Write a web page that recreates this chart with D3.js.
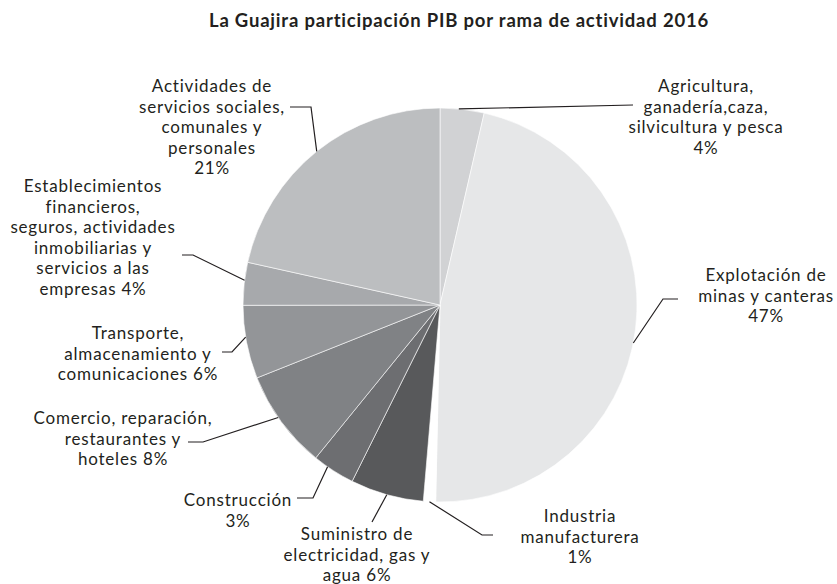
<!DOCTYPE html>
<html><head><meta charset="utf-8">
<script src="https://cdn.jsdelivr.net/npm/d3@7"></script>
<style>
body{margin:0;background:#fff;}
svg{display:block;}
text{font-family:Lato,"Open Sans",sans-serif;fill:#231f20;}
</style></head><body>
<svg id="chart" width="837" height="584"></svg>
<script>
const title = "La Guajira participación PIB por rama de actividad 2016";
const categories = [
  "Agricultura, ganadería,caza, silvicultura y pesca",
  "Explotación de minas y canteras",
  "Industria manufacturera",
  "Suministro de electricidad, gas y agua",
  "Construcción",
  "Comercio, reparación, restaurantes y hoteles",
  "Transporte, almacenamiento y comunicaciones",
  "Establecimientos financieros, seguros, actividades inmobiliarias y servicios a las empresas",
  "Actividades de servicios sociales, comunales y personales"
];
const values = [3.6, 46.7, 1.0, 6.0, 3.5, 8.1, 6.0, 3.5, 21.5];
const percentLabels = ["4%", "47%", "1%", "6%", "3%", "8%", "6%", "4%", "21%"];
const labelLines = [
  ["Agricultura,", "ganadería,caza,", "silvicultura y pesca", "4%"],
  ["Explotación de", "minas y canteras", "47%"],
  ["Industria", "manufacturera", "1%"],
  ["Suministro de", "electricidad, gas y", "agua 6%"],
  ["Construcción", "3%"],
  ["Comercio, reparación,", "restaurantes y", "hoteles 8%"],
  ["Transporte,", "almacenamiento y", "comunicaciones 6%"],
  ["Establecimientos", "financieros,", "seguros, actividades", "inmobiliarias y", "servicios a las", "empresas 4%"],
  ["Actividades de", "servicios sociales,", "comunales y", "personales", "21%"]
];
const colors = ["#d1d2d4", "#e6e7e8", "#ffffff", "#58595b", "#6d6e71", "#808285", "#939598", "#a7a9ac", "#bcbec0"];

// label layout: text centre x, first baseline y, leader start & elbow, angle tweak (deg)
const layout = [
  {x:706, y:92,  pts:[[633,105]], tweak:-1},
  {x:766, y:281, pts:[[678,299],[663,299]], tweak:4},
  {x:580, y:522, pts:[[493,535],[482,535]], tweak:0},
  {x:357, y:540, pts:[[372,522]], tweak:0},
  {x:238, y:506, pts:[[297,498],[313,498]], tweak:2},
  {x:123, y:424, pts:[[188,442],[203,442]], tweak:1.5},
  {x:138, y:339, pts:[[222,352],[232,352]], tweak:1.5},
  {x:93,  y:192, pts:[[182,255],[193,255]], tweak:1},
  {x:212, y:92,  pts:[[290,107],[311,107]], tweak:0}
];

const W = 837, H = 584, cx = 440, cy = 305, R = 197;
const LH = 20.5;
const svg = d3.select("#chart");

svg.append("text").attr("x", 459).attr("y", 27).attr("text-anchor", "middle")
  .style("font-weight", "700").style("font-size", "18.5px").style("letter-spacing", "0.8px").text(title);

const pie = d3.pie().sort(null).value(d => d)(values);
const arc = d3.arc().innerRadius(0).outerRadius(R);
const g = svg.append("g").attr("transform", `translate(${cx},${cy})`);
g.selectAll("path").data(pie).join("path")
  .attr("d", arc).attr("fill", (d, i) => colors[i])
  .attr("stroke", "#ffffff").attr("stroke-width", 0.6);

const line = d3.line();
pie.forEach((d, i) => {
  const L = layout[i];
  const a = (d.startAngle + d.endAngle) / 2 + L.tweak * Math.PI / 180;
  const end = [cx + R * Math.sin(a), cy - R * Math.cos(a)];
  svg.append("path").attr("d", line([...L.pts, end]))
    .attr("fill", "none").attr("stroke", "#231f20").attr("stroke-width", 1.2);
  labelLines[i].forEach((s, k) => {
    svg.append("text").attr("text-anchor", "middle").style("font-size", "17px")
      .style("letter-spacing", "0.8px")
      .attr("x", L.x).attr("y", L.y + k * LH).text(s);
  });
});
</script>
</body></html>
